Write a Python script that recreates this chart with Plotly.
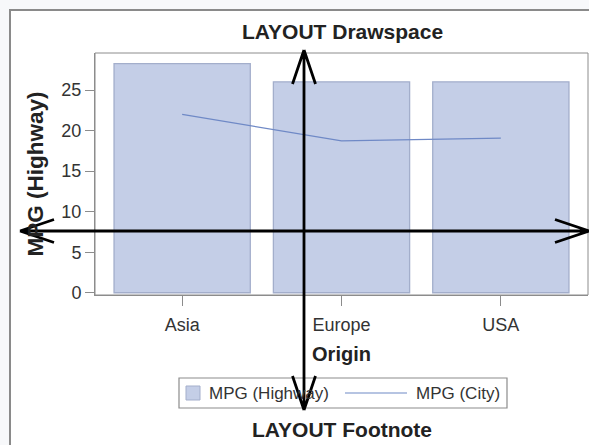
import math

import plotly.graph_objects as go

# mean mileage by origin
origins = ["Asia", "Europe", "USA"]
series_names = ["MPG (Highway)", "MPG (City)"]
mpg_highway = [28.26, 26.02, 26.01]
mpg_city = [22.01, 18.73, 19.08]
y_ticks = [0, 5, 10, 15, 20, 25]

W, H = 589, 445
PLOT_L, PLOT_R, PLOT_T, PLOT_B = 95, 588, 53, 295
FONT = "Liberation Sans, Arial, sans-serif"
GREY = "#8c8c8c"
BAR_FILL = "#c4cee7"
BAR_EDGE = "#a3aecb"
LINE_COLOR = "#6f89c6"


def px_x(x):
    return (x - PLOT_L) / (PLOT_R - PLOT_L)


def px_y(y):
    return (PLOT_B - y) / (PLOT_B - PLOT_T)


def arrow_path(x0, y0, x1, y1, head=34, spread=11.5):
    # double headed open arrow, drawn in page pixels
    ang = math.atan2(y1 - y0, x1 - x0)
    parts = [f"M{px_x(x0)},{px_y(y0)} L{px_x(x1)},{px_y(y1)}"]
    for tx, ty, a in [(x1, y1, ang + math.pi), (x0, y0, ang)]:
        for s in (1, -1):
            bx = tx + head * math.cos(a) - s * spread * math.sin(a)
            by = ty + head * math.sin(a) + s * spread * math.cos(a)
            parts.append(f"M{px_x(bx)},{px_y(by)} L{px_x(tx)},{px_y(ty)}")
    return " ".join(parts)


def paper_rect(x0, y0, x1, y1, **kw):
    return {"type": "rect", "xref": "paper", "yref": "paper",
            "x0": px_x(x0), "y0": px_y(y0), "x1": px_x(x1), "y1": px_y(y1), **kw}


fig = go.Figure()
fig.add_trace(go.Bar(
    x=origins, y=mpg_highway, name=series_names[0],
    marker={"color": BAR_FILL, "line": {"color": BAR_EDGE, "width": 1.3}},
    width=0.855, showlegend=False,
))
fig.add_trace(go.Scatter(
    x=origins, y=mpg_city, name=series_names[1], mode="lines",
    line={"color": LINE_COLOR, "width": 1.2}, showlegend=False,
))

shapes = [
    paper_rect(10, 10, 620, 480, line={"color": "#8a8a8a", "width": 2},
               fillcolor="white", layer="below"),
    # plot frame
    {"type": "rect", "xref": "paper", "yref": "paper", "x0": 0, "y0": 0, "x1": 1, "y1": 1,
     "line": {"color": GREY, "width": 1}, "layer": "above"},
    # legend box and keys
    paper_rect(179, 378, 507, 408, line={"color": GREY, "width": 1.2}),
    paper_rect(186, 386, 200, 400, line={"color": BAR_EDGE, "width": 1}, fillcolor=BAR_FILL),
    {"type": "line", "xref": "paper", "yref": "paper",
     "x0": px_x(345), "y0": px_y(393), "x1": px_x(407), "y1": px_y(393),
     "line": {"color": LINE_COLOR, "width": 1.2}},
    # drawspace arrows
    {"type": "path", "xref": "paper", "yref": "paper",
     "path": arrow_path(20, 231, 589, 231), "line": {"color": "black", "width": 2.8}},
    {"type": "path", "xref": "paper", "yref": "paper",
     "path": arrow_path(304, 50, 304, 410), "line": {"color": "black", "width": 2.8}},
]

annotations = [
    {"text": "<b>LAYOUT Drawspace</b>", "x": px_x(342), "y": px_y(32),
     "font": {"size": 21, "color": "#222"}},
    {"text": "<b>LAYOUT Footnote</b>", "x": px_x(342), "y": px_y(429),
     "font": {"size": 21, "color": "#222"}},
    {"text": series_names[0], "x": px_x(207), "y": px_y(393), "xanchor": "left",
     "font": {"size": 17, "color": "#333"}},
    {"text": series_names[1], "x": px_x(414), "y": px_y(393), "xanchor": "left",
     "font": {"size": 17, "color": "#333"}},
]
for a in annotations:
    a.setdefault("xanchor", "center")
    a.update({"xref": "paper", "yref": "paper", "showarrow": False, "yanchor": "middle"})

fig.update_layout(
    width=W, height=H,
    margin={"l": PLOT_L, "r": W - PLOT_R, "t": PLOT_T, "b": H - PLOT_B, "pad": 0},
    paper_bgcolor="#f7f8fa", plot_bgcolor="white",
    font={"family": FONT, "size": 18, "color": "#333"},
    showlegend=False,
    shapes=shapes, annotations=annotations,
)
fig.update_xaxes(
    range=[-0.547, 2.547], showgrid=False, showline=True, linecolor=GREY,
    ticks="outside", ticklen=10, tickcolor=GREY, tickfont={"size": 18},
    ticklabelstandoff=3,
    title={"text": "<b>Origin</b>", "font": {"size": 20, "color": "#222"}, "standoff": 13},
)
fig.update_yaxes(
    range=[-0.28, 29.57], tickvals=y_ticks, showgrid=False, showline=True,
    linecolor=GREY, ticks="outside", ticklen=9, tickcolor=GREY,
    tickfont={"size": 18}, zeroline=False,
    title={"text": "<b>MPG (Highway)</b>", "font": {"size": 22.5, "color": "#222"}, "standoff": 11},
)

fig.write_html("out.html", config={"displayModeBar": False},
               post_script="document.body.style.margin='0';")
